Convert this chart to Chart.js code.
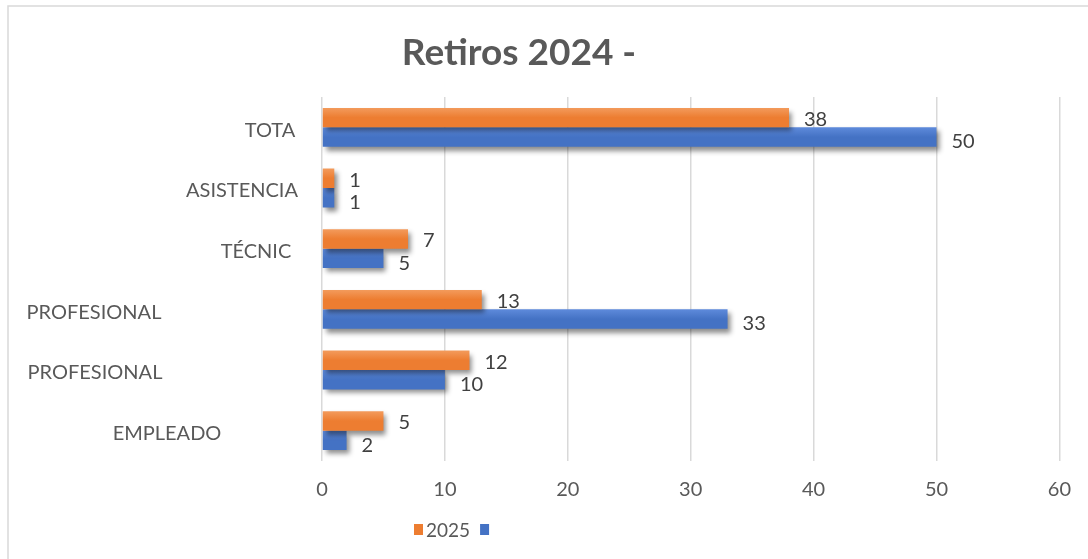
<!DOCTYPE html>
<html>
<head>
<meta charset="utf-8">
<script src="https://cdn.jsdelivr.net/npm/chart.js@4"></script>
<style>
  html, body { margin: 0; padding: 0; background: #fff; }
  #wrap { width: 1088px; height: 559px; position: relative; }
</style>
</head>
<body>
<div id="wrap"><canvas id="retirosChart" width="1088" height="559"></canvas></div>
<script>
// chart data
const categories = ['TOTA', 'ASISTENCIA', 'TÉCNIC', 'PROFESIONAL', 'PROFESIONAL', 'EMPLEADO'];
const values2025 = [38, 1, 7, 13, 12, 5];
const valuesOther = [50, 1, 5, 33, 10, 2];
const seriesNames = ['2025', ''];
const xTicks = [0, 10, 20, 30, 40, 50, 60];
const chartTitle = 'Retiros 2024 -';

// style settings (label centres on the left side)
const labelCenterX = [270, 242, 256, 94, 95, 167];
const FONT = "Lato, 'Liberation Sans', sans-serif";
const TEXT = '#595959';
const ORANGE = ['#F39B5C', '#ED7D31'];
const BLUE = ['#5E8ADB', '#4472C4'];
const BAR = 19.5;

function barGradient(colors, dsIndex) {
    return function (context) {
        const chart = context.chart;
        const y = chart.scales.y;
        if (!y || context.dataIndex === undefined) return colors[1];
        const c = y.getPixelForValue(context.dataIndex);
        if (!isFinite(c)) return colors[1];
        const top = dsIndex === 0 ? c - BAR : c;
        const g = chart.ctx.createLinearGradient(0, top, 0, top + BAR);
        g.addColorStop(0, colors[0]);
        g.addColorStop(0.5, colors[1]);
        g.addColorStop(1, colors[1]);
        return g;
    };
}

// shadow under the bars, like the office chart
const shadowPlugin = {
    id: 'barShadow',
    beforeDatasetsDraw(chart) {
        const ctx = chart.ctx;
        ctx.save();
        ctx.shadowColor = 'rgba(0, 0, 0, 0.45)';
        ctx.shadowOffsetX = 3;
        ctx.shadowOffsetY = 4;
        ctx.shadowBlur = 5;
    },
    afterDatasetsDraw(chart) {
        chart.ctx.restore();
    }
};

// frame, title, category labels, value labels and legend
const decorPlugin = {
    id: 'decor',
    beforeDraw(chart) {
        const ctx = chart.ctx;
        ctx.save();
        ctx.strokeStyle = '#d9d9d9';
        ctx.lineWidth = 1.5;
        ctx.strokeRect(8, 6, 1200, 700);
        ctx.restore();
    },
    afterDraw(chart) {
        const ctx = chart.ctx;
        const yScale = chart.scales.y;
        ctx.save();

        // title
        ctx.fillStyle = TEXT;
        ctx.font = 'bold 37px ' + FONT;
        ctx.textAlign = 'center';
        ctx.textBaseline = 'middle';
        ctx.fillText(chartTitle, 519, 53);

        // category labels
        ctx.font = '20px ' + FONT;
        categories.forEach(function (label, i) {
            ctx.fillText(label, labelCenterX[i], yScale.getPixelForValue(i) + 3);
        });

        // value labels
        ctx.fillStyle = '#404040';
        ctx.textAlign = 'left';
        chart.data.datasets.forEach(function (ds, d) {
            const meta = chart.getDatasetMeta(d);
            meta.data.forEach(function (bar, i) {
                const dy = d === 0 ? 2 : 5;
                ctx.fillText(String(ds.data[i]), bar.x + 15, bar.y + dy);
            });
        });

        // legend
        ctx.font = '19px ' + FONT;
        ctx.fillStyle = ORANGE[1];
        ctx.fillRect(414, 524, 9, 11);
        ctx.fillStyle = TEXT;
        ctx.fillText(seriesNames[0], 426, 531);
        const blueX = 426 + ctx.measureText(seriesNames[0]).width + 10;
        ctx.fillStyle = BLUE[1];
        ctx.fillRect(blueX, 524, 9, 11);
        ctx.fillStyle = TEXT;
        ctx.fillText(seriesNames[1], blueX + 12, 531);

        ctx.restore();
    }
};

const ctx = document.getElementById('retirosChart').getContext('2d');
new Chart(ctx, {
    type: 'bar',
    data: {
        labels: categories,
        datasets: [
            {
                label: seriesNames[0],
                data: values2025,
                backgroundColor: barGradient(ORANGE, 0),
                barPercentage: 1,
                categoryPercentage: 0.64
            },
            {
                label: seriesNames[1],
                data: valuesOther,
                backgroundColor: barGradient(BLUE, 1),
                barPercentage: 1,
                categoryPercentage: 0.64
            }
        ]
    },
    options: {
        indexAxis: 'y',
        responsive: false,
        animation: false,
        layout: {
            padding: { top: 97, right: 27, bottom: 0, left: 0 }
        },
        plugins: {
            legend: { display: false },
            title: { display: false },
            tooltip: { enabled: false }
        },
        scales: {
            x: {
                min: 0,
                max: 60,
                afterBuildTicks: function (scale) {
                    scale.ticks = xTicks.map(function (v) { return { value: v }; });
                },
                grid: {
                    color: '#d9d9d9',
                    lineWidth: 1.5,
                    drawTicks: false
                },
                border: { display: false },
                ticks: {
                    color: TEXT,
                    padding: 17,
                    font: { family: FONT, size: 20 }
                },
                afterFit: function (scale) {
                    scale.height = 98;
                }
            },
            y: {
                grid: { display: false, drawTicks: false },
                border: { display: false },
                ticks: {
                    callback: function () { return ''; }
                },
                afterFit: function (scale) {
                    scale.width = 322;
                }
            }
        }
    },
    plugins: [shadowPlugin, decorPlugin]
});
</script>
</body>
</html>
